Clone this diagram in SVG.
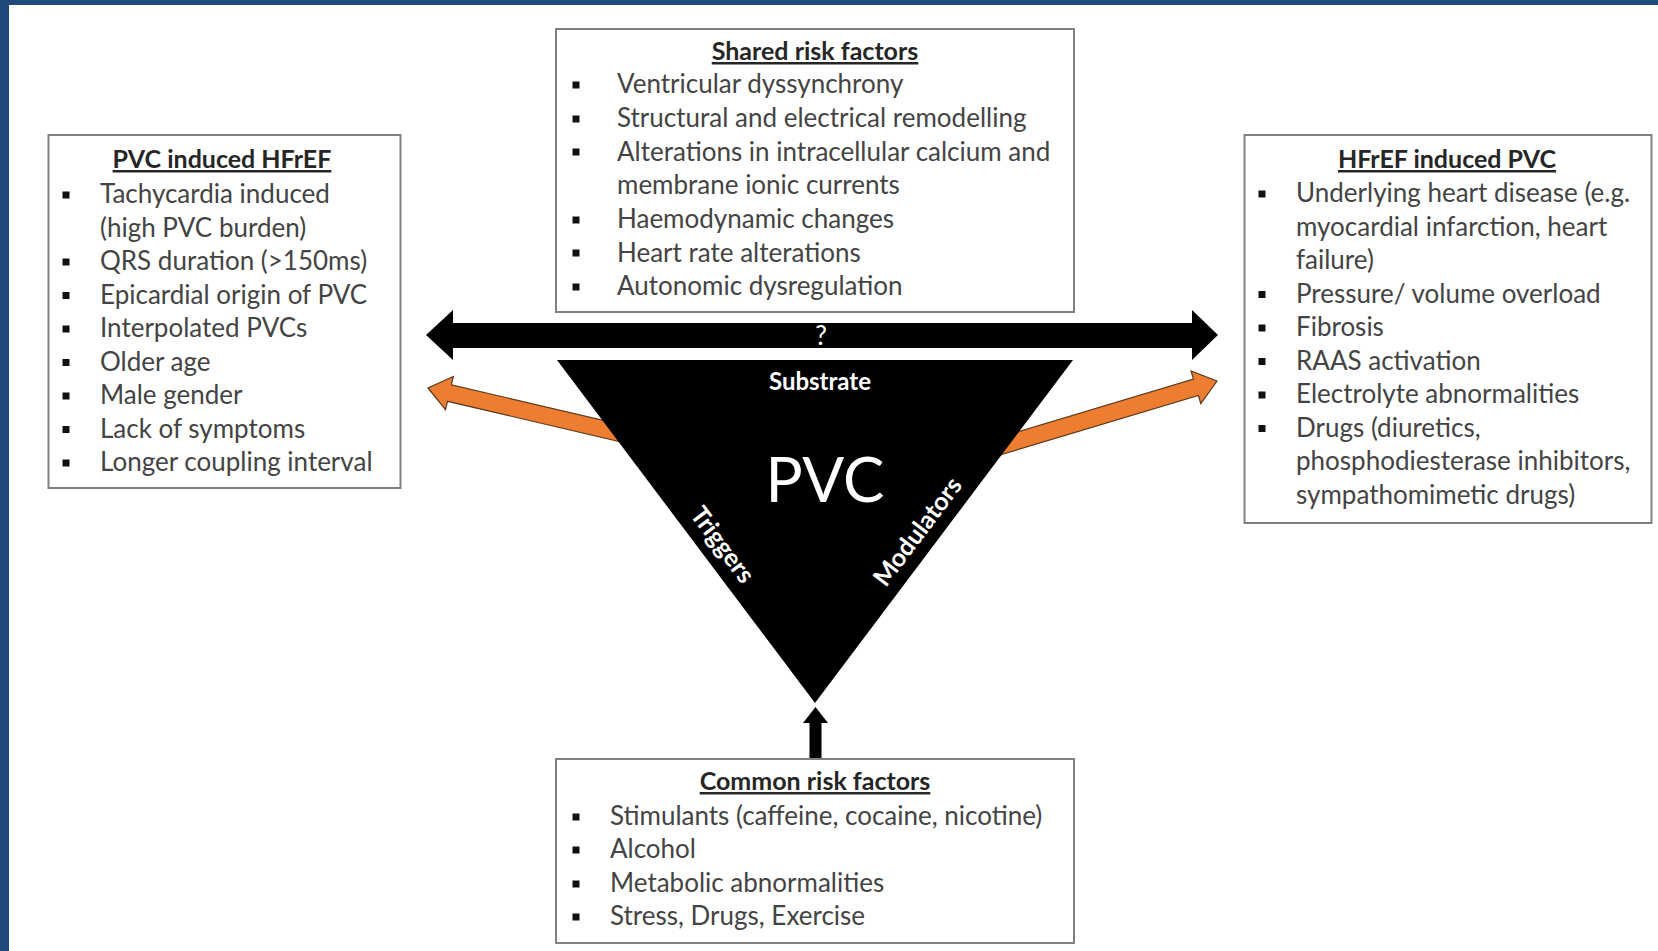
<svg xmlns="http://www.w3.org/2000/svg" width="1658" height="951" viewBox="0 0 1658 951">
<style>
.box{fill:#ffffff;stroke:#808080;stroke-width:2}
.t{font-family:Lato,"Liberation Sans",sans-serif;font-size:26px;fill:#444444}
.h{font-family:Lato,"Liberation Sans",sans-serif;font-size:25px;font-weight:bold;fill:#262626;text-anchor:middle;text-decoration:underline}
.w{font-family:Lato,"Liberation Sans",sans-serif;fill:#ffffff;text-anchor:middle}
.orange{fill:#ed7d31;stroke:#5a3a1a;stroke-width:1.2}
</style>
<defs>
<rect id="bul" x="-3.5" y="-3.5" width="7" height="7" fill="#111"/>
<polygon id="oarrow" points="0,0 -22,-17 -22,-8.5 -240,-8.5 -240,8.5 -22,8.5 -22,17"/>
</defs>
<rect x="0" y="0" width="1658" height="951" fill="#ffffff"/>
<rect x="0" y="0" width="1658" height="5" fill="#1e4a7c"/>
<rect x="0" y="0" width="9" height="951" fill="#1e4a7c"/>

<g id="connectors">
<polygon points="426,335 453,310 453,323 1192,323 1192,310 1218,335 1192,360 1192,348 453,348 453,360" fill="#000"/>
<use href="#oarrow" class="orange" transform="translate(428,388) rotate(193.2)"/>
<use href="#oarrow" class="orange" transform="translate(1217,381) rotate(-16.7)"/>
<polygon points="815.5,707 828,723 821.5,723 821.5,758 809.5,758 809.5,723 803,723" fill="#000"/>
<text class="w" x="821" y="345" font-size="26">?</text>
</g>

<g id="pvc-triangle">
<polygon points="557,360 1073,360 815,703" fill="#000"/>
<text class="w" x="820" y="390" font-size="24" font-weight="bold">Substrate</text>
<text class="w" x="825" y="502" font-size="62">PVC</text>
<text class="w" font-size="25" font-weight="bold" transform="translate(722,545) rotate(53)" y="8">Triggers</text>
<text class="w" font-size="25" font-weight="bold" transform="translate(918,532) rotate(-53)" y="8">Modulators</text>
</g>

<g id="shared-risk-factors">
<rect class="box" x="556" y="29" width="518" height="283"/>
<text class="h" x="815" y="60">Shared risk factors</text>
<use href="#bul" x="576" y="85"/><text class="t" x="617" y="93">Ventricular dyssynchrony</text>
<use href="#bul" x="576" y="119"/><text class="t" x="617" y="127">Structural and electrical remodelling</text>
<use href="#bul" x="576" y="152"/><text class="t" x="617" y="160.5">Alterations in intracellular calcium and</text>
<text class="t" x="617" y="194">membrane ionic currents</text>
<use href="#bul" x="576" y="220"/><text class="t" x="617" y="228">Haemodynamic changes</text>
<use href="#bul" x="576" y="253"/><text class="t" x="617" y="261.5">Heart rate alterations</text>
<use href="#bul" x="576" y="287"/><text class="t" x="617" y="295">Autonomic dysregulation</text>
</g>

<g id="pvc-induced-hfref">
<rect class="box" x="48.5" y="135" width="352" height="353"/>
<text class="h" x="222" y="168">PVC induced HFrEF</text>
<use href="#bul" x="66" y="195"/><text class="t" x="100" y="203">Tachycardia induced</text>
<text class="t" x="100" y="236.5">(high PVC burden)</text>
<use href="#bul" x="66" y="262"/><text class="t" x="100" y="270">QRS duration (&gt;150ms)</text>
<use href="#bul" x="66" y="295.5"/><text class="t" x="100" y="303.5">Epicardial origin of PVC</text>
<use href="#bul" x="66" y="329"/><text class="t" x="100" y="337">Interpolated PVCs</text>
<use href="#bul" x="66" y="362.5"/><text class="t" x="100" y="370.5">Older age</text>
<use href="#bul" x="66" y="396"/><text class="t" x="100" y="404">Male gender</text>
<use href="#bul" x="66" y="429.5"/><text class="t" x="100" y="437.5">Lack of symptoms</text>
<use href="#bul" x="66" y="463"/><text class="t" x="100" y="471">Longer coupling interval</text>
</g>

<g id="hfref-induced-pvc">
<rect class="box" x="1244.5" y="135" width="407" height="388"/>
<text class="h" x="1447" y="168">HFrEF induced PVC</text>
<use href="#bul" x="1262" y="194"/><text class="t" x="1296" y="202">Underlying heart disease (e.g.</text>
<text class="t" x="1296" y="235.5">myocardial infarction, heart</text>
<text class="t" x="1296" y="269">failure)</text>
<use href="#bul" x="1262" y="294.5"/><text class="t" x="1296" y="302.5">Pressure/ volume overload</text>
<use href="#bul" x="1262" y="328"/><text class="t" x="1296" y="336">Fibrosis</text>
<use href="#bul" x="1262" y="361.5"/><text class="t" x="1296" y="369.5">RAAS activation</text>
<use href="#bul" x="1262" y="395"/><text class="t" x="1296" y="403">Electrolyte abnormalities</text>
<use href="#bul" x="1262" y="428.5"/><text class="t" x="1296" y="436.5">Drugs (diuretics,</text>
<text class="t" x="1296" y="470">phosphodiesterase  inhibitors,</text>
<text class="t" x="1296" y="503.5">sympathomimetic drugs)</text>
</g>

<g id="common-risk-factors">
<rect class="box" x="556" y="759" width="518" height="184"/>
<text class="h" x="815" y="790">Common risk factors</text>
<use href="#bul" x="576" y="817"/><text class="t" x="610" y="825">Stimulants (caffeine, cocaine, nicotine)</text>
<use href="#bul" x="576" y="850"/><text class="t" x="610" y="858">Alcohol</text>
<use href="#bul" x="576" y="884"/><text class="t" x="610" y="892">Metabolic abnormalities</text>
<use href="#bul" x="576" y="917"/><text class="t" x="610" y="925">Stress, Drugs, Exercise</text>
</g>
</svg>
